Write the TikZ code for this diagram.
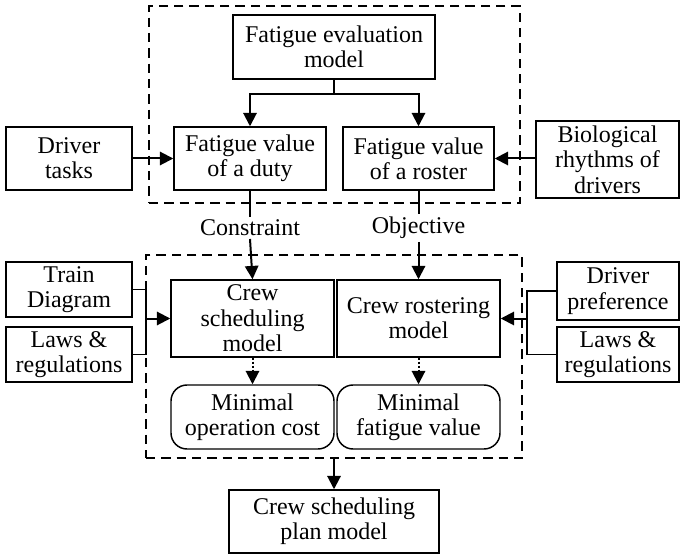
\documentclass[tikz,border=0pt]{standalone}
\usepackage{fontspec}
\setmainfont{LiberationSerif}[Extension=.ttf,UprightFont=*-Regular,BoldFont=*-Bold]
\usetikzlibrary{arrows.meta}
\begin{document}
\begin{tikzpicture}[x=0.75pt,y=-0.75pt,
  font=\fontsize{18}{19}\selectfont,
  box/.style 2 args={draw,line width=1.1pt,align=center,inner sep=0pt,
    minimum width=#1*0.75pt,minimum height=#2*0.75pt},
  rbox/.style 2 args={box={#1}{#2},rounded corners=12pt},
  dbox/.style 2 args={draw,line width=1pt,dash pattern=on 7pt off 4.5pt,
    inner sep=0pt,minimum width=#1*0.75pt,minimum height=#2*0.75pt},
  conn/.style={line width=1.5pt},
  arr/.style={line width=1.5pt,-{Triangle[length=10pt,width=10pt]}},
  darr/.style={line width=1.5pt,dash pattern=on 1.5pt off 1.5pt,-{Triangle[length=10pt,width=10pt]}},
  lbl/.style={inner sep=2pt}]
\useasboundingbox (0,0) rectangle (680,555);
% dashed groups
\node[dbox={371}{197}] (top) at (334.5,104.5) {};
\node[dbox={376}{203}] (bot) at (334,356.5) {};
% nodes
\node[box={202}{64}] (eval) at (334,47) {Fatigue evaluation\\model};
\node[box={152}{63}] (duty) at (250,158.5) {Fatigue value\\of a duty};
\node[box={151}{63}] (roster) at (418.5,158.5) {Fatigue value\\of a roster};
\node[box={126}{63}] (tasks) at (69,158.5) {Driver\\tasks};
\node[box={143}{77}] (bio) at (607.5,159.5) {Biological\\rhythms of\\drivers};
\node[box={163}{77}] (sched) at (252.5,318.5) {Crew\\scheduling\\model};
\node[box={163}{77}] (rostm) at (418.5,318.5) {Crew rostering\\model};
\node[rbox={163}{64}] (mincost) at (252.5,417) {Minimal\\operation cost};
\node[rbox={163}{64}] (minfat) at (418.5,417) {Minimal\\fatigue value};
\node[box={126}{55}] (train) at (69,289.5) {Train\\Diagram};
\node[box={126}{55}] (lawsl) at (69,354.5) {Laws \&\\regulations};
\node[box={122}{58}] (pref) at (618,291) {Driver\\preference};
\node[box={122}{55}] (lawsr) at (618,354.5) {Laws \&\\regulations};
\node[box={210}{63}] (plan) at (334,521.5) {Crew scheduling\\plan model};
\node[lbl] (cons) at (250,228) {Constraint};
\node[lbl] (obj) at (418.5,228) {Objective};
% connectors
\coordinate (j) at (334,94);
\draw[conn] (eval.south) -- (j);
\draw[arr] (j) -| (duty.north);
\draw[arr] (j) -| (roster.north);
\draw[arr] (tasks.east) -- (duty.west);
\draw[arr] (bio.west |- roster.east) -- (roster.east);
\draw[conn] (duty.south) -- (cons.north);
\draw[arr] (cons.south) -- (sched.north);
\draw[conn] (roster.south) -- (obj.north);
\draw[arr] (obj.south) -- (rostm.north);
\draw[darr] (sched.south) -- (mincost.north);
\draw[darr] (rostm.south) -- (minfat.north);
% left bracket
\coordinate (lb1) at (146,289.5);
\coordinate (lb2) at (146,354.5);
\coordinate (lbm) at (146,318.5);
\draw[line width=1.1pt] (train.east) -- (lb1) -- (lb2) -- (lawsl.east);
\draw[arr] (lbm) -- (sched.west);
% right bracket
\coordinate (rb1) at (527,291);
\coordinate (rb2) at (527,354.5);
\coordinate (rbm) at (527,318.5);
\draw[line width=1.1pt] (pref.west) -- (rb1) -- (rb2) -- (lawsr.west);
\draw[arr] (rbm) -- (rostm.east);
% bottom
\draw[arr] (bot.south) -- (plan.north);
\end{tikzpicture}
\end{document}
